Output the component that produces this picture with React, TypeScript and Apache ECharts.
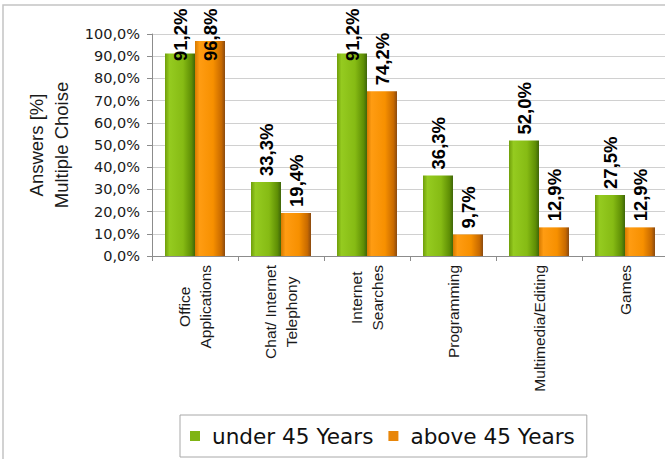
import React, { useEffect, useRef } from "react";
import * as echarts from "echarts";

const categories = [
  "Office\nApplications",
  "Chat/ Internet\nTelephony",
  "Internet\nSearches",
  "Programming",
  "Multimedia/Editing",
  "Games",
];
const under45 = [91.2, 33.3, 91.2, 36.3, 52.0, 27.5];
const above45 = [96.8, 19.4, 74.2, 9.7, 12.9, 12.9];
const seriesNames = ["under 45 Years", "above 45 Years"];
const yTitle = "Answers [%]\nMultiple Choise";

const fmt = (v: number) => v.toFixed(1).replace(".", ",") + "%";

const greenGrad = new echarts.graphic.LinearGradient(0, 0, 1, 0, [
  { offset: 0, color: "#6f9e0a" },
  { offset: 0.15, color: "#95cb20" },
  { offset: 0.6, color: "#86bb14" },
  { offset: 0.88, color: "#5f8f05" },
  { offset: 1, color: "#3f660a" },
]);
const orangeGrad = new echarts.graphic.LinearGradient(0, 0, 1, 0, [
  { offset: 0, color: "#d77a00" },
  { offset: 0.15, color: "#ff9c12" },
  { offset: 0.6, color: "#f79000" },
  { offset: 0.88, color: "#c86a00" },
  { offset: 1, color: "#8a4a10" },
]);

const LABEL_DIST = 6;
const LABEL_LEN = 55;
const LABEL_MIN_TOP = 6;

const labelCfg = {
  show: true,
  position: "top" as const,
  distance: LABEL_DIST,
  rotate: 90,
  align: "left" as const,
  verticalAlign: "middle" as const,
  fontFamily: "Liberation Sans, Arial, sans-serif",
  fontWeight: "bold" as const,
  fontSize: 18.5,
  color: "#000",
  formatter: (p: any) => fmt(p.value),
};

export default function App() {
  const ref = useRef<HTMLDivElement>(null);
  useEffect(() => {
    const chart = echarts.init(ref.current!, null, { renderer: "svg" });
    chart.setOption({
      animation: false,
      backgroundColor: "#fff",
      graphic: [
        {
          type: "rect",
          shape: { x: 3, y: 5, width: 700, height: 520 },
          style: { fill: "none", stroke: "#c4c4c4", lineWidth: 1.5 },
          silent: true,
        },
      ],
      grid: {
        left: 152,
        right: -3,
        top: 34,
        bottom: 203,
        containLabel: false,
        outerBoundsMode: "none",
      },
      legend: {
        left: 180,
        top: 415,
        padding: [10, 12, 10, 10],
        borderColor: "#a8a8a8",
        borderWidth: 1,
        itemGap: 15,
        itemWidth: 10,
        itemHeight: 10,
        icon: "rect",
        data: [
          { name: seriesNames[0], itemStyle: { color: "#7fb414" } },
          { name: seriesNames[1], itemStyle: { color: "#e8860a" } },
        ],
        textStyle: {
          fontFamily: "DejaVu Sans, sans-serif",
          fontSize: 21.6,
          lineHeight: 22,
          color: "#111",
          padding: [0, 0, 0, 7],
        },
      },
      xAxis: {
        type: "category",
        data: categories,
        axisLine: { lineStyle: { color: "#8c8c8c" } },
        axisTick: { show: true, length: 5, lineStyle: { color: "#8c8c8c" } },
        axisLabel: {
          interval: 0,
          rotate: 90,
          margin: 9,
          formatter: (v: string) =>
            v.split("\n").map((s) => `{c|${s}}`).join("\n"),
          rich: {
            c: {
              align: "center",
              fontFamily: "Liberation Sans, Arial, sans-serif",
              fontSize: 15.5,
              lineHeight: 21,
              color: "#1a1a1a",
            },
          },
        },
      },
      yAxis: {
        type: "value",
        min: 0,
        max: 100,
        interval: 10,
        name: yTitle,
        nameLocation: "middle",
        nameRotate: 90,
        nameGap: 78,
        nameTextStyle: {
          fontFamily: "Liberation Sans, Arial, sans-serif",
          fontSize: 18.5,
          lineHeight: 25,
          color: "#1a1a1a",
        },
        axisLine: { show: true, lineStyle: { color: "#8c8c8c" } },
        axisTick: { show: true, length: 5, lineStyle: { color: "#8c8c8c" } },
        splitLine: { lineStyle: { color: "#d0d0d0" } },
        axisLabel: {
          margin: 12,
          formatter: (v: number) => fmt(v),
          fontFamily: "DejaVu Sans, sans-serif",
          fontSize: 14.5,
          color: "#1a1a1a",
        },
      },
      series: [
        {
          name: seriesNames[0],
          type: "bar",
          data: under45,
          barWidth: 30,
          barGap: "0%",
          itemStyle: { color: greenGrad },
          label: labelCfg,
        },
        {
          name: seriesNames[1],
          type: "bar",
          data: above45,
          barWidth: 30,
          barGap: "0%",
          itemStyle: { color: orangeGrad },
          label: labelCfg,
        },
      ],
    });

    // keep tall bars' labels inside the chart (pushed down onto the bar)
    const withClamp = (vals: number[]) =>
      vals.map((v) => {
        const y = chart.convertToPixel({ gridIndex: 0 }, [0, v])[1];
        const top = y - LABEL_DIST - LABEL_LEN;
        if (top < LABEL_MIN_TOP) {
          return {
            value: v,
            label: { distance: y - LABEL_MIN_TOP - LABEL_LEN },
          };
        }
        return v;
      });
    chart.setOption({
      series: [{ data: withClamp(under45) }, { data: withClamp(above45) }],
    });
    return () => chart.dispose();
  }, []);
  return (
    <div
      ref={ref}
      style={{ position: "fixed", left: 0, top: 0, width: 665, height: 459 }}
    />
  );
}
